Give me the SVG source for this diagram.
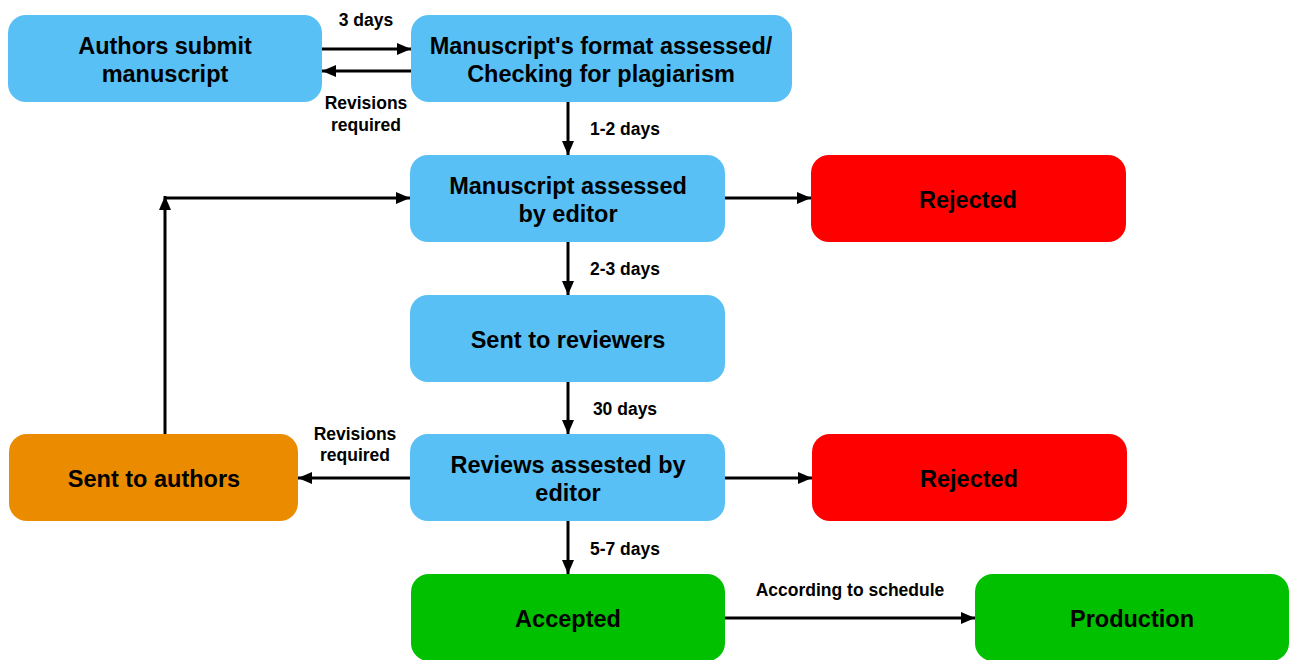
<svg xmlns="http://www.w3.org/2000/svg" width="1290" height="660" viewBox="0 0 1290 660">
<style>
.blue{fill:#58C0F5}
.red{fill:#FF0000}
.orange{fill:#EB8C00}
.green{fill:#00C000}
.nt{font-family:"Liberation Sans",Arial,sans-serif;font-weight:bold;font-size:23.5px;fill:#000;text-anchor:middle}
.lb{font-family:"Liberation Sans",Arial,sans-serif;font-weight:bold;font-size:17.5px;fill:#000;text-anchor:middle}
.ln{stroke:#000;stroke-width:3;fill:none;marker-end:url(#ah)}
</style>
<defs>
<marker id="ah" viewBox="0 0 14 12" refX="14" refY="6" markerWidth="14" markerHeight="12" markerUnits="userSpaceOnUse" orient="auto">
<path d="M0,0 L14,6 L0,12 Z" fill="#000"/>
</marker>
</defs>
<rect width="1290" height="660" fill="#fff"/>
<g id="connectors">
<line class="ln" x1="322" y1="49" x2="411" y2="49"/>
<line class="ln" x1="411" y1="71" x2="322" y2="71"/>
<line class="ln" x1="568" y1="102" x2="568" y2="155"/>
<line class="ln" x1="568" y1="242" x2="568" y2="295"/>
<line class="ln" x1="568" y1="382" x2="568" y2="434"/>
<line class="ln" x1="568" y1="521" x2="568" y2="574"/>
<line class="ln" x1="725" y1="198" x2="811" y2="198"/>
<line class="ln" x1="725" y1="478" x2="812" y2="478"/>
<line class="ln" x1="410" y1="478" x2="298" y2="478"/>
<line class="ln" x1="165" y1="434" x2="165" y2="196"/>
<line class="ln" x1="164" y1="198" x2="410" y2="198"/>
<line class="ln" x1="725" y1="618" x2="975" y2="618"/>
<text class="lb" x="366" y="26">3 days</text>
<text class="lb" x="366" y="109">Revisions</text>
<text class="lb" x="366" y="131">required</text>
<text class="lb" x="625" y="135">1-2 days</text>
<text class="lb" x="625" y="275">2-3 days</text>
<text class="lb" x="625" y="415">30 days</text>
<text class="lb" x="625" y="555">5-7 days</text>
<text class="lb" x="355" y="440">Revisions</text>
<text class="lb" x="355" y="461">required</text>
<text class="lb" x="850" y="596">According to schedule</text>
</g>
<g id="n-submit">
<rect class="blue" x="8" y="15" width="314" height="87" rx="18"/>
<text class="nt" x="165" y="54">Authors submit</text>
<text class="nt" x="165" y="82">manuscript</text>
</g>
<g id="n-format">
<rect class="blue" x="411" y="15" width="381" height="87" rx="18"/>
<text class="nt" x="601" y="54">Manuscript's format assessed/</text>
<text class="nt" x="601" y="82">Checking for plagiarism</text>
</g>
<g id="n-editor">
<rect class="blue" x="410" y="155" width="315" height="87" rx="18"/>
<text class="nt" x="568" y="194">Manuscript assessed</text>
<text class="nt" x="568" y="222">by editor</text>
</g>
<g id="n-rejected1">
<rect class="red" x="811" y="155" width="315" height="87" rx="18"/>
<text class="nt" x="968" y="208">Rejected</text>
</g>
<g id="n-reviewers">
<rect class="blue" x="410" y="295" width="315" height="87" rx="18"/>
<text class="nt" x="568" y="348">Sent to reviewers</text>
</g>
<g id="n-reviews">
<rect class="blue" x="410" y="434" width="315" height="87" rx="18"/>
<text class="nt" x="568" y="473">Reviews assested by</text>
<text class="nt" x="568" y="501">editor</text>
</g>
<g id="n-rejected2">
<rect class="red" x="812" y="434" width="315" height="87" rx="18"/>
<text class="nt" x="969" y="487">Rejected</text>
</g>
<g id="n-authors">
<rect class="orange" x="9" y="434" width="289" height="87" rx="18"/>
<text class="nt" x="154" y="487">Sent to authors</text>
</g>
<g id="n-accepted">
<rect class="green" x="411" y="574" width="314" height="87" rx="18"/>
<text class="nt" x="568" y="627">Accepted</text>
</g>
<g id="n-production">
<rect class="green" x="975" y="574" width="314" height="87" rx="18"/>
<text class="nt" x="1132" y="627">Production</text>
</g>
</svg>
